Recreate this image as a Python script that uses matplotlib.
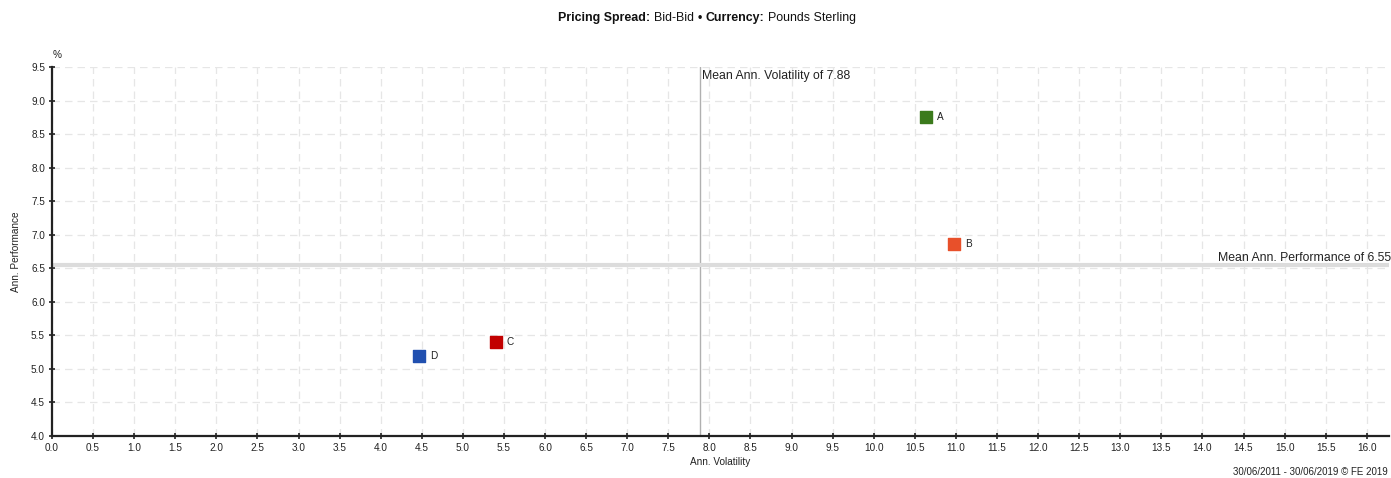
import matplotlib
matplotlib.use("Agg")
import matplotlib.pyplot as plt
from matplotlib.ticker import MultipleLocator

plt.rcParams['font.family'] = ['Liberation Sans Narrow', 'Liberation Sans', 'DejaVu Sans']

names = ["A", "B", "C", "D"]
volatility = [10.64, 10.98, 5.40, 4.47]
performance = [8.75, 6.86, 5.40, 5.19]
colors = ["#3b7a1c", "#e8502a", "#c20000", "#2150b0"]
mean_vol = 7.88
mean_perf = 6.55

W, H = 1391, 478
fig = plt.figure(figsize=(W / 100, H / 100), dpi=100)
ax = fig.add_axes([52 / W, 1 - 436 / H, (1389 - 52) / W, (436 - 67) / H])

ax.set_xlim(0, 16.27)
ax.set_ylim(4.0, 9.5)
ax.yaxis.set_major_locator(MultipleLocator(0.5))
ax.set_xticks([i * 0.5 for i in range(33)])
ax.set_xticklabels(["%.1f" % (i * 0.5) for i in range(33)])
ax.grid(True, color="#e6e6e6", linestyle=(0, (6, 4)), linewidth=0.9)
ax.set_axisbelow(True)

for s in ["top", "right"]:
    ax.spines[s].set_visible(False)
for s in ["left", "bottom"]:
    ax.spines[s].set_linewidth(1.6)
    ax.spines[s].set_color("#222222")
ax.tick_params(axis="both", direction="inout", length=4, width=1.2, labelsize=7.2,
               colors="#222222", pad=3)

ax.axvline(mean_vol, color="#b0b0b0", linewidth=1.0, zorder=1)
ax.axhline(mean_perf, color="#dcdcdc", linewidth=3.0, zorder=1)
ax.text(mean_vol + 0.03, 9.45, "Mean Ann. Volatility of %.2f" % mean_vol, fontsize=8.8,
        va="top", ha="left", color="#222222")
ax.text(16.29, mean_perf + 0.02, "Mean Ann. Performance of %.2f" % mean_perf, fontsize=8.8,
        va="bottom", ha="right", color="#222222")

for n, x, y, c in zip(names, volatility, performance, colors):
    ax.scatter([x], [y], marker="s", s=75, color=c, zorder=3)
    ax.annotate(n, (x, y), xytext=(8, 0), textcoords="offset points", fontsize=7.2,
                va="center", ha="left", color="#222222")

ax.set_xlabel("Ann. Volatility", fontsize=7.2, labelpad=3, color="#222222")
ax.set_ylabel("Ann. Performance", fontsize=7.2, labelpad=7, color="#222222")
fig.text(53 / W, 1 - 55 / H, "%", fontsize=7.2, ha="left", va="center", color="#222222")
fig.text(1388 / W, 1 - 472 / H, "30/06/2011 - 30/06/2019 \u00a9 FE 2019", fontsize=7.0,
         ha="right", va="center", color="#222222")

# title made of bold and regular pieces, with a fixed gap between them
pieces = [("Pricing Spread:", "bold"), ("Bid-Bid", "normal"), ("\u2022", "bold"),
          ("Currency:", "bold"), ("Pounds Sterling", "normal")]
gap = 3.5
renderer = fig.canvas.get_renderer()
texts = []
total = 0
for s, w in pieces:
    t = fig.text(0, 1 - 18 / H, s, fontsize=8.9, fontweight=w, ha="left", va="center",
                 color="#111111")
    bb = t.get_window_extent(renderer)
    texts.append((t, bb.width))
    total += bb.width
total += gap * (len(pieces) - 1)
x0 = 707 - total / 2
for t, wd in texts:
    t.set_x(x0 / W)
    x0 += wd + gap

fig.savefig("out.png", dpi=100)
